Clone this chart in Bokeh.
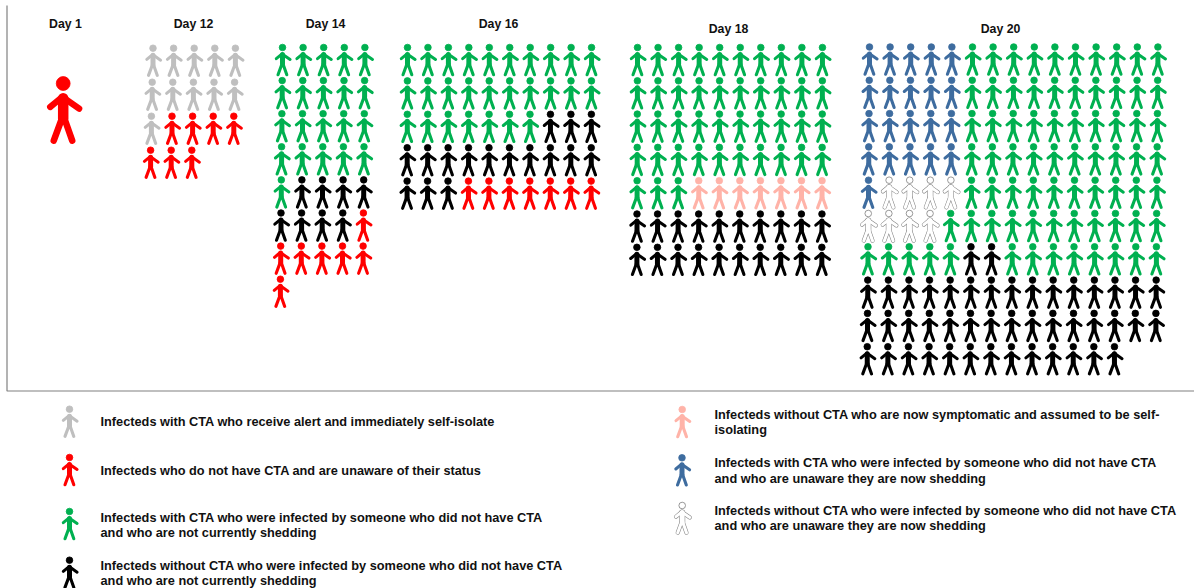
from bokeh.plotting import figure
from bokeh.models import Range1d, ColumnDataSource
from bokeh.core.properties import value
from bokeh.embed import file_html
from bokeh.resources import INLINE

# ---- data: status runs per row, for each day -------------------------------
day_names = ["Day 1", "Day 12", "Day 14", "Day 16", "Day 18", "Day 20"]
day_1 = [[("red", 1)]]
day_12 = [[("grey", 5)], [("grey", 5)], [("grey", 1), ("red", 4)], [("red", 3)]]
day_14 = [[("green", 5)], [("green", 5)], [("green", 5)], [("green", 5)],
          [("green", 1), ("black", 4)], [("black", 4), ("red", 1)],
          [("red", 5)], [("red", 1)]]
day_16 = [[("green", 10)], [("green", 10)], [("green", 7), ("black", 3)],
          [("black", 10)], [("black", 3), ("red", 7)]]
day_18 = [[("green", 10)], [("green", 10)], [("green", 10)], [("green", 10)],
          [("green", 3), ("pink", 7)], [("black", 10)], [("black", 10)]]
day_20 = [[("blue", 5), ("green", 10)], [("blue", 5), ("green", 10)],
          [("blue", 5), ("green", 10)], [("blue", 5), ("green", 10)],
          [("blue", 1), ("white", 4), ("green", 10)],
          [("white", 4), ("green", 11)],
          [("green", 5), ("black", 2), ("green", 8)],
          [("black", 15)], [("black", 15)], [("black", 13)]]

legend_status = ["grey", "red", "green", "black", "pink", "blue", "white"]
legend_labels = [
    "Infecteds with CTA who receive alert and immediately self-isolate",
    "Infecteds who do not have CTA and are unaware of their status",
    "Infecteds with CTA who were infected by someone who did not have CTA\nand who are not currently shedding",
    "Infecteds without CTA who were infected by someone who did not have CTA\nand who are not currently shedding",
    "Infecteds without CTA who are now symptomatic and assumed to be self-\nisolating",
    "Infecteds with CTA who were infected by someone who did not have CTA\nand who are unaware they are now shedding",
    "Infecteds without CTA who were infected by someone who did not have CTA\nand who are unaware they are now shedding",
]

# ---- styles and layout ------------------------------------------------------
COLORS = {"grey": "#BFBFBF", "red": "#FF0000", "green": "#00B050", "black": "#000000",
          "pink": "#FFB3A8", "blue": "#3E6C9F", "white": "#FFFFFF"}
OUTLINE = "#7F7F7F"
FONT = "Liberation Sans"

# day: (rows, first head x, first head y, x pitch, y pitch, x shear per row, scale)
LAYOUT = [
    (day_1, 62.7, 83, 0, 0, 0, 2.1),
    (day_12, 152.5, 47.7, 20.6, 34, -0.8, 1),
    (day_14, 282, 47, 20.6, 33.1, -0.3, 1),
    (day_16, 407, 47, 20.45, 33.4, -0.1, 1),
    (day_18, 637, 47, 20.55, 33.3, -0.1, 1),
    (day_20, 869, 46.5, 20.6, 33.3, -0.25, 1),
]
TITLE_POS = [(65, 23), (193, 23), (325, 23), (498, 23), (728, 28), (1000, 28)]
LEGEND_ICON = [(69, 408.7), (69, 457), (69, 511), (69, 559.7),
               (681.7, 409), (681.5, 457.3), (681.7, 505)]
LEGEND_TEXT = [(100, 421), (100, 470), (100, 524.3), (100, 572.6),
               (714, 421.7), (714, 470.2), (714, 517.7)]

p = figure(width=1194, height=588, output_backend="svg", toolbar_location=None,
           x_range=Range1d(0, 1194), y_range=Range1d(588, 0),
           min_border=0, outline_line_color=None, background_fill_color="white")
p.axis.visible = False
p.grid.visible = False

limbs = dict(xs=[], ys=[], c=[], w=[])
torso = dict(xs=[], ys=[], c=[], w=[])
white_lines = dict(xs=[], ys=[], c=[], w=[])
heads = dict(x=[], y=[], r=[], f=[], l=[])


def person(hx, hy, status, s=1.0):
    arm_x = [-6.2, -0.4, 7.6]
    arm_y = [11.2, 6.4, 12.0]
    leg_x = [-4.5, 0.0, 4.3]
    leg_y = [27.2, 15.0, 27.2]
    tor_x = [0.0, 0.0]
    tor_y = [7.0, 16.5]
    for d, xs, ys, width in ((limbs, arm_x, arm_y, 3.0),
                             (limbs, leg_x, leg_y, 3.1),
                             (torso, tor_x, tor_y, 5.0)):
        X = [hx + s * v for v in xs]
        Y = [hy + s * v for v in ys]
        if status == "white":
            d["xs"].append(X); d["ys"].append(Y); d["c"].append(OUTLINE); d["w"].append(s * width + 1.0)
            white_lines["xs"].append(X); white_lines["ys"].append(Y)
            white_lines["c"].append("#FFFFFF"); white_lines["w"].append(s * width)
        else:
            d["xs"].append(X); d["ys"].append(Y); d["c"].append(COLORS[status]); d["w"].append(s * width)
    heads["x"].append(hx); heads["y"].append(hy); heads["r"].append(3.3 * s)
    heads["f"].append(COLORS[status])
    heads["l"].append(OUTLINE if status == "white" else COLORS[status])


for rows, x0, y0, dx, dy, shear, scale in LAYOUT:
    for r, runs in enumerate(rows):
        col = 0
        for status, n in runs:
            for _ in range(n):
                person(x0 + col * dx + r * shear, y0 + r * dy, status, scale)
                col += 1

for (ix, iy), status in zip(LEGEND_ICON, legend_status):
    person(ix, iy, status)

for d in (limbs, torso, white_lines):
    p.multi_line(xs="xs", ys="ys", line_color="c", line_width="w", line_cap="round",
                 line_join="round", source=ColumnDataSource(d))
p.circle(x="x", y="y", radius="r", fill_color="f", line_color="l", line_width=0.8,
         source=ColumnDataSource(heads))

# frame of the pictogram panel
p.line([6.5, 6.5, 1194], [5, 390.5, 390.5], line_color="#808080", line_width=1.2)

# day titles
p.text(x=[q[0] for q in TITLE_POS], y=[q[1] for q in TITLE_POS], text=day_names,
       text_font=value(FONT), text_font_style="bold", text_font_size="12.3px",
       text_color="#111111", text_align="center", text_baseline="middle")

# legend texts (split into individual lines)
tx, ty, tt = [], [], []
for (x, yc), label in zip(LEGEND_TEXT, legend_labels):
    lines = label.split("\n")
    for k, line in enumerate(lines):
        tx.append(x)
        ty.append(yc + (k - (len(lines) - 1) / 2) * 15.5)
        tt.append(line)
p.text(x=tx, y=ty, text=tt, text_font=value(FONT), text_font_style="bold",
       text_font_size="12.75px", text_color="#111111", text_align="left", text_baseline="middle")

open("out.html", "w").write(file_html(p, INLINE))
